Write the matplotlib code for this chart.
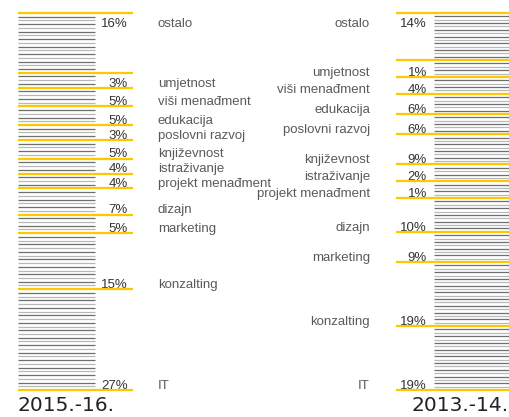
import numpy as np
import matplotlib.pyplot as plt

# share of projects by field, two seasons
categories = ['ostalo', 'umjetnost', 'viši menađment', 'edukacija', 'poslovni razvoj',
              'književnost', 'istraživanje', 'projekt menađment', 'dizajn', 'marketing',
              'konzalting', 'IT']
share_2015 = [16, 3, 5, 5, 3, 5, 4, 4, 7, 5, 15, 27]
share_2013 = [14, 1, 4, 6, 6, 9, 2, 1, 10, 9, 19, 19]
years = ['2015.-16.', '2013.-14.']

YELLOW = '#fcc800'
GRAYS = ['#6f6f6f', '#b8b8b8']
LABEL_FONT = ['Liberation Sans', 'DejaVu Sans']

fig = plt.figure(figsize=(5.1, 4.17), dpi=100)


def column(values, side, label_room):
    # x in pixels of the 510 wide canvas, y in stacked share units;
    # small shares get a bit of extra room so the labels fit
    ax = fig.add_axes([0, 27 / 417, 1, 377 / 417])
    ax.set_axis_off()
    ax.patch.set_alpha(0)
    heights = np.maximum(np.array(values, dtype=float), label_room)
    edges = np.concatenate([[0], np.cumsum(heights)])
    ax.set_xlim(0, 510)
    ax.set_ylim(edges[-1], 0)

    if side == 'left':
        gray_x, yellow_x = (18, 95), (18, 133)
        pct_x, cat_x, cat_ha = 128, 158, 'left'
    else:
        gray_x, yellow_x = (434, 510), (396, 510)
        pct_x, cat_x, cat_ha = 427, 370, 'right'

    for i, (cat, v) in enumerate(zip(categories, values)):
        top, bottom = edges[i], edges[i + 1]
        n = max(int(round(bottom - top)), 2)
        ys = np.linspace(top, bottom, n + 1)[1:-1]
        for k, y in enumerate(ys):
            ax.hlines(y, *gray_x, color=GRAYS[k % 2], lw=0.9)

        if i == 0:
            y_lab, dy = top, -10
        else:
            y_lab, dy = bottom, 0.8
        ax.annotate(f'{v}%', (pct_x, y_lab), xytext=(0, dy), textcoords='offset points',
                    ha='right', va='baseline', fontsize=9.5, color='#333333',
                    family=LABEL_FONT)
        ax.annotate(cat, (cat_x, y_lab), xytext=(0, dy), textcoords='offset points',
                    ha=cat_ha, va='baseline', fontsize=9.5, color='#5a5a5a',
                    family=LABEL_FONT)

    for y in edges:
        ax.hlines(y, *yellow_x, color=YELLOW, lw=1.6, zorder=3, clip_on=False)


column(share_2015, 'left', 4)
column(share_2013, 'right', 5)

fig.text(18 / 510, 6 / 417, years[0], ha='left', va='baseline',
         fontsize=14.5, color='#222222', family='DejaVu Sans')
fig.text(509 / 510, 6 / 417, years[1], ha='right', va='baseline',
         fontsize=14.5, color='#222222', family='DejaVu Sans')

fig.savefig('out.png', dpi=100)
